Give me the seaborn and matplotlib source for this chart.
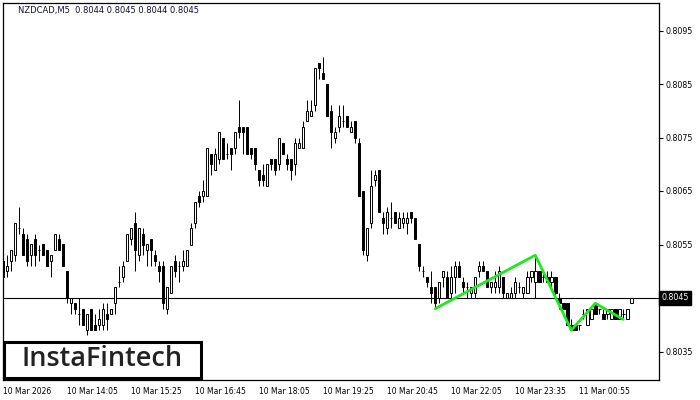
import numpy as np
import pandas as pd
import matplotlib
matplotlib.use("Agg")
import matplotlib.pyplot as plt
from matplotlib.patches import Rectangle
import seaborn as sns

# --- data: M5 candles, prices in pips above 0.8000 (open, high, low, close) ---
opens = [52, 50, 52, 53, 58, 57, 56, 53, 56, 54, 55, 54, 52, 54, 56, 55, 50, 44, 44, 42,
         43, 39, 43, 40, 40, 40, 42, 42, 44, 48, 49, 52, 56, 59, 53, 57, 54, 56, 53, 51,
         51, 43, 46, 52, 51, 51, 51, 55, 59, 64, 64, 64, 72, 69, 71, 75, 72, 73, 73, 77,
         77, 77, 73, 73, 69, 68, 66, 71, 71, 70, 74, 71, 71, 70, 73, 73, 78, 79, 81, 89,
         87, 85, 80, 75, 77, 78, 79, 76, 78, 74, 65, 53, 59, 67, 69, 60, 58, 60, 61, 58,
         59, 59, 61, 60, 55, 50, 49, 47, 47, 45, 49, 49, 46, 49, 51, 48, 47, 46, 46, 50,
         51, 50, 47, 47, 47, 49, 45, 45, 46, 47, 46, 46, 49, 48, 50, 49, 49, 48, 49, 45,
         44, 44, 40, 40, 40, 42, 40, 41, 44, 43, 42, 42, 41, 43, 41, 42, 41, 44]
highs = [53, 53, 54, 59, 62, 58, 57, 55, 57, 55, 55, 54, 53, 57, 57, 55, 50, 45, 44, 45,
         43, 42, 43, 42, 43, 44, 44, 43, 47, 51, 52, 57, 58, 61, 58, 58, 55, 56, 54, 52,
         52, 47, 51, 53, 52, 54, 54, 59, 63, 65, 67, 73, 72, 73, 76, 75, 74, 73, 76, 82,
         77, 77, 73, 73, 69, 70, 70, 71, 71, 75, 74, 72, 71, 75, 75, 78, 82, 82, 88, 89,
         90, 85, 81, 77, 81, 81, 79, 78, 78, 75, 65, 58, 69, 69, 69, 61, 62, 63, 61, 61,
         61, 61, 61, 60, 55, 51, 49, 50, 47, 48, 50, 50, 51, 52, 52, 49, 48, 47, 49, 52,
         52, 50, 48, 50, 51, 49, 46, 47, 49, 48, 47, 50, 50, 53, 50, 50, 50, 50, 49, 46,
         44, 44, 41, 40, 40, 43, 43, 43, 44, 43, 43, 43, 43, 43, 43, 43, 43, 45]
lows = [49, 49, 50, 52, 57, 53, 51, 51, 51, 52, 53, 51, 49, 54, 54, 51, 44, 42, 42, 40,
        40, 38, 39, 39, 39, 39, 39, 42, 42, 47, 48, 52, 55, 50, 52, 53, 51, 51, 51, 48,
        43, 42, 46, 49, 48, 50, 51, 55, 58, 62, 63, 64, 68, 69, 70, 71, 71, 69, 72, 75,
        72, 72, 71, 69, 66, 66, 66, 69, 68, 69, 72, 69, 67, 68, 73, 73, 78, 79, 80, 86,
        86, 79, 73, 74, 76, 77, 77, 76, 74, 64, 53, 52, 58, 66, 61, 57, 57, 58, 59, 58,
        58, 57, 59, 56, 50, 49, 47, 44, 43, 44, 47, 45, 45, 46, 49, 46, 45, 45, 45, 49,
        50, 47, 46, 46, 46, 45, 45, 45, 45, 46, 45, 46, 48, 45, 48, 48, 48, 47, 45, 43,
        43, 40, 39, 39, 39, 41, 40, 41, 42, 42, 41, 41, 41, 41, 41, 41, 41, 44]
closes = [49, 51, 54, 59, 58, 53, 52, 55, 53, 54, 53, 51, 53, 57, 54, 51, 45, 45, 43, 42,
          40, 42, 39, 39, 41, 43, 41, 43, 47, 48, 51, 57, 58, 54, 58, 55, 55, 54, 52, 50,
          44, 47, 51, 50, 51, 52, 54, 58, 63, 63, 65, 73, 70, 72, 76, 71, 72, 72, 76, 76,
          76, 72, 72, 70, 67, 67, 70, 70, 69, 75, 72, 70, 69, 74, 74, 77, 80, 80, 88, 88,
          86, 79, 76, 76, 79, 78, 77, 77, 75, 64, 54, 58, 66, 68, 61, 59, 61, 60, 59, 60,
          60, 60, 60, 56, 51, 50, 48, 46, 44, 48, 50, 45, 49, 51, 49, 47, 47, 47, 49, 51,
          50, 47, 48, 48, 50, 46, 46, 46, 48, 47, 47, 49, 50, 50, 48, 49, 48, 49, 46, 44,
          43, 40, 39, 39, 40, 42, 43, 43, 42, 43, 41, 43, 43, 41, 43, 42, 43, 45]

tick_pos = [0, 16, 32, 48, 64, 80, 96, 112, 128, 144]
tick_labels = ["10 Mar 2026", "10 Mar 14:05", "10 Mar 15:25", "10 Mar 16:45",
               "10 Mar 18:05", "10 Mar 19:25", "10 Mar 20:45", "10 Mar 22:05",
               "10 Mar 23:35", "11 Mar 00:55"]
price_ticks = [0.8035, 0.8045, 0.8055, 0.8065, 0.8075, 0.8085, 0.8095]

# pattern line drawn on the chart (candle index, pips)
pattern_idx = [108, 133, 142, 148, 155]
pattern_pips = [43, 53, 39, 44, 41]

current_price = 0.8045
title_text = "NZDCAD,M5  0.8044 0.8045 0.8044 0.8045"


def to_price(p):
    return 0.8 + np.asarray(p, dtype=float) / 10000.0


df = pd.DataFrame({"o": to_price(opens), "h": to_price(highs),
                   "l": to_price(lows), "c": to_price(closes)})
df["idx"] = np.arange(len(df))

sns.set_style("white")
plt.rcParams["font.family"] = ["DejaVu Sans"]

fig = plt.figure(figsize=(7, 4), dpi=100)
W, H = 700, 400
left, right, top, bottom = 2.5, 659, 2.5, 380
ax = fig.add_axes([left / W, 1 - bottom / H, (right - left) / W, (bottom - top) / H])

# wicks
ax.vlines(df["idx"], df["l"], df["h"], color="black", lw=0.7, zorder=2)

bw = 0.62
up = df[df["c"] > df["o"]]
dn = df[df["c"] < df["o"]]
doji = df[df["c"] == df["o"]]
ax.bar(up["idx"], up["c"] - up["o"], bottom=up["o"], width=bw,
       facecolor="white", edgecolor="black", lw=0.7, zorder=3)
ax.bar(dn["idx"], dn["o"] - dn["c"], bottom=dn["c"], width=bw,
       facecolor="black", edgecolor="black", lw=0.7, zorder=3)
ax.hlines(doji["o"], doji["idx"] - bw / 2, doji["idx"] + bw / 2,
          color="black", lw=0.7, zorder=3)

# bid line
ax.axhline(current_price, color="black", lw=0.8, zorder=1)

# pattern
sns.lineplot(x=pattern_idx, y=to_price(pattern_pips), color="#1ee81e", lw=2,
             sort=False, ax=ax, zorder=4)

ax.set_xlim(-0.15, (right - 3.3) / 4)
ax.set_ylim(0.8045 - 82 / 53.5 * 0.001, 0.8045 + 295.5 / 53.5 * 0.001)

ax.yaxis.tick_right()
ax.set_yticks(price_ticks)
# the 0.8045 level is labelled by the price tag instead
ax.set_yticklabels(["" if v == current_price else f"{v:.4f}" for v in price_ticks])
ax.set_xticks(tick_pos)
ax.set_xticklabels(tick_labels, ha="left")
ax.tick_params(axis="y", direction="out", length=3, width=0.8, pad=2,
               labelsize=5.7, colors="black")
ax.tick_params(axis="x", direction="out", length=3, width=0.8, pad=2,
               labelsize=5.5, colors="black")
for s in ax.spines.values():
    s.set_color("black")
    s.set_linewidth(0.9)

# current price tag
ax.text(1.004, current_price, f"{current_price:.4f}", transform=ax.get_yaxis_transform(),
        ha="left", va="center", fontsize=5.7, color="white", clip_on=False,
        bbox=dict(facecolor="black", edgecolor="black", pad=1.6))

fig.text(18 / W, 1 - 11 / H, title_text, fontsize=6, color="#101030",
         ha="left", va="center")

# logo box
fig.patches.append(Rectangle((3.5 / W, 1 - 378 / H), 197 / W, 36.5 / H,
                             transform=fig.transFigure, facecolor="white",
                             edgecolor="black", lw=2.2, zorder=10))
fig.text(102 / W, 1 - 359.5 / H, "InstaFintech", fontsize=19.5, color="#222222",
         family="Open Sans", weight="semibold", ha="center", va="center", zorder=11)

fig.savefig("out.png", dpi=100)
